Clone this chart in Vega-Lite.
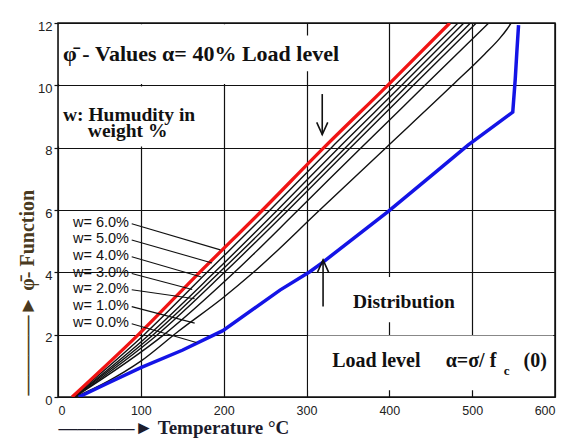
{
  "$schema": "https://vega.github.io/schema/vega-lite/v6.json",
  "width": 497,
  "height": 374,
  "autosize": {"type": "none"},
  "padding": {"left": 58, "top": 23, "right": 6, "bottom": 45},
  "background": "white",
  "config": {"view": {"stroke": "#111", "strokeWidth": 1.5}},
  "datasets": {
    "curves": [
      {"s": "red", "x": 17, "y": 0}, {"s": "red", "x": 97, "y": 2}, {"s": "red", "x": 171, "y": 4}, {"s": "red", "x": 247, "y": 6}, {"s": "red", "x": 321, "y": 8}, {"s": "red", "x": 398, "y": 10}, {"s": "red", "x": 473, "y": 12},
      {"s": "b5", "x": 18, "y": 0}, {"s": "b5", "x": 104, "y": 2}, {"s": "b5", "x": 180, "y": 4}, {"s": "b5", "x": 256, "y": 6}, {"s": "b5", "x": 330, "y": 8}, {"s": "b5", "x": 407, "y": 10}, {"s": "b5", "x": 483, "y": 12},
      {"s": "b4", "x": 19, "y": 0}, {"s": "b4", "x": 110, "y": 2}, {"s": "b4", "x": 189, "y": 4}, {"s": "b4", "x": 265, "y": 6}, {"s": "b4", "x": 339, "y": 8}, {"s": "b4", "x": 415, "y": 10}, {"s": "b4", "x": 490, "y": 12},
      {"s": "b3", "x": 19, "y": 0}, {"s": "b3", "x": 115, "y": 2}, {"s": "b3", "x": 195, "y": 4}, {"s": "b3", "x": 272, "y": 6}, {"s": "b3", "x": 347, "y": 8}, {"s": "b3", "x": 422, "y": 10}, {"s": "b3", "x": 498, "y": 12},
      {"s": "b2", "x": 20, "y": 0}, {"s": "b2", "x": 120, "y": 2}, {"s": "b2", "x": 201, "y": 4}, {"s": "b2", "x": 278, "y": 6}, {"s": "b2", "x": 353, "y": 8}, {"s": "b2", "x": 429, "y": 10}, {"s": "b2", "x": 505, "y": 12},
      {"s": "b1", "x": 20, "y": 0}, {"s": "b1", "x": 128, "y": 2}, {"s": "b1", "x": 213, "y": 4}, {"s": "b1", "x": 290, "y": 6}, {"s": "b1", "x": 366, "y": 8}, {"s": "b1", "x": 443, "y": 10}, {"s": "b1", "x": 520, "y": 12},
      {"s": "b0", "x": 21, "y": 0}, {"s": "b0", "x": 60, "y": 0.5}, {"s": "b0", "x": 100, "y": 1.15}, {"s": "b0", "x": 145, "y": 2.1}, {"s": "b0", "x": 200, "y": 3.2}, {"s": "b0", "x": 236, "y": 4}, {"s": "b0", "x": 316, "y": 6}, {"s": "b0", "x": 396, "y": 8}, {"s": "b0", "x": 476, "y": 10}, {"s": "b0", "x": 515, "y": 11}, {"s": "b0", "x": 533, "y": 11.5}, {"s": "b0", "x": 542, "y": 11.8}, {"s": "b0", "x": 547, "y": 12},
      {"s": "blue", "x": 25, "y": 0}, {"s": "blue", "x": 60, "y": 0.44}, {"s": "blue", "x": 100, "y": 0.94}, {"s": "blue", "x": 150, "y": 1.5}, {"s": "blue", "x": 199, "y": 2.13}, {"s": "blue", "x": 268, "y": 3.43}, {"s": "blue", "x": 304, "y": 4.02}, {"s": "blue", "x": 320, "y": 4.33}, {"s": "blue", "x": 398, "y": 5.94}, {"s": "blue", "x": 449, "y": 7.06}, {"s": "blue", "x": 495, "y": 8.08}, {"s": "blue", "x": 549, "y": 9.14}, {"s": "blue", "x": 552, "y": 10.2}, {"s": "blue", "x": 554, "y": 11.1}, {"s": "blue", "x": 556, "y": 11.93}
    ],
    "boxes": [
      {"x": 1, "x2": 295, "y": 10.04, "y2": 11.96},
      {"x": 295, "x2": 345, "y": 10.45, "y2": 11.6},
      {"x": 1, "x2": 196, "y": 8.04, "y2": 9.96},
      {"x": 350, "x2": 470, "y": 2.4, "y2": 3.85},
      {"x": 302, "x2": 598, "y": 0.22, "y2": 1.97}
    ],
    "leaders": [
      {"w": "6.0", "x": 89, "y": 5.56, "x2": 196, "y2": 4.72},
      {"w": "5.0", "x": 89, "y": 5.04, "x2": 186, "y2": 4.3},
      {"w": "4.0", "x": 89, "y": 4.5, "x2": 173, "y2": 3.85},
      {"w": "3.0", "x": 89, "y": 3.96, "x2": 162, "y2": 3.45},
      {"w": "2.0", "x": 89, "y": 3.44, "x2": 165, "y2": 3.15},
      {"w": "1.0", "x": 89, "y": 2.9, "x2": 165, "y2": 2.37},
      {"w": "0.0", "x": 89, "y": 2.35, "x2": 167, "y2": 1.75}
    ],
    "wlabels": [
      {"t": "w= 6.0%", "x": 18, "y": 5.58},
      {"t": "w= 5.0%", "x": 18, "y": 5.07},
      {"t": "w= 4.0%", "x": 18, "y": 4.52},
      {"t": "w= 3.0%", "x": 18, "y": 3.98},
      {"t": "w= 2.0%", "x": 18, "y": 3.46},
      {"t": "w= 1.0%", "x": 18, "y": 2.92},
      {"t": "w= 0.0%", "x": 18, "y": 2.37}
    ],
    "notes": [
      {"kind": "title", "t": "φ̄ -  Values α= 40% Load level", "x": 6, "y": 10.78},
      {"kind": "mid", "t": "w: Humudity in", "x": 6, "y": 8.87},
      {"kind": "mid", "t": "weight %", "x": 36, "y": 8.34},
      {"kind": "mid", "t": "Distribution", "x": 356, "y": 2.86},
      {"kind": "big", "t": "Load level", "x": 331, "y": 0.96},
      {"kind": "big", "t": "α=σ/ f", "x": 468, "y": 0.96},
      {"kind": "sub", "t": "c", "x": 538, "y": 0.7},
      {"kind": "big", "t": "(0)", "x": 562, "y": 0.96}
    ],
    "arrows": [
      {"dir": "down", "x": 319, "y": 9.72, "y2": 8.42},
      {"dir": "up", "x": 320, "y": 2.9, "y2": 4.4}
    ]
  },
  "encoding": {
    "x": {
      "field": "x", "type": "quantitative",
      "scale": {"domain": [0, 600], "nice": false, "zero": false},
      "axis": {
        "values": [0, 100, 200, 300, 400, 500, 600],
        "grid": true, "gridColor": "#111", "gridWidth": 1.2, "gridOpacity": 1,
        "domain": false, "ticks": false, "labelPadding": 7, "labelFlush": true,
        "labelFont": "Liberation Sans", "labelFontSize": 12.5, "labelColor": "#222",
        "title": "————► Temperature  °C",
        "titleFont": "Liberation Serif", "titleFontSize": 19, "titleFontWeight": "bold", "titleColor": "#1c1c2c",
        "titleAnchor": "start", "titleAlign": "left", "titleBaseline": "alphabetic", "titleX": 0, "titleY": 36
      }
    },
    "y": {
      "field": "y", "type": "quantitative",
      "scale": {"domain": [0, 12], "nice": false},
      "axis": {
        "values": [0, 2, 4, 6, 8, 10, 12],
        "grid": true, "gridColor": "#111", "gridWidth": 1.2, "gridOpacity": 1,
        "domain": false, "ticks": true, "tickSize": 4, "tickColor": "#111", "tickWidth": 1.2,
        "labelPadding": 2, "labelOffset": 3, "labelFont": "Liberation Sans", "labelFontSize": 13, "labelColor": "#222",
        "title": "————►  φ̄- Function",
        "titleFont": "Liberation Serif", "titleFontSize": 20, "titleFontWeight": "bold", "titleColor": "#4a3a20",
        "titleAngle": -90, "titleAlign": "left", "titleBaseline": "alphabetic", "titleX": -25, "titleY": 372
      }
    }
  },
  "layer": [
    {
      "data": {"name": "boxes"},
      "mark": {"type": "rect", "fill": "white", "stroke": null},
      "encoding": {"x2": {"field": "x2"}, "y2": {"field": "y2"}}
    },
    {
      "data": {"name": "curves"},
      "transform": [{"filter": "datum.s != 'red' && datum.s != 'blue'"}],
      "mark": {"type": "line", "color": "#111", "strokeWidth": 1.4, "interpolate": "monotone", "clip": true},
      "encoding": {"detail": {"field": "s"}}
    },
    {
      "data": {"name": "curves"},
      "transform": [{"filter": "datum.s == 'red'"}],
      "mark": {"type": "line", "color": "#f01414", "strokeWidth": 3.3, "interpolate": "monotone", "clip": true},
      "encoding": {}
    },
    {
      "data": {"name": "curves"},
      "transform": [{"filter": "datum.s == 'blue'"}],
      "mark": {"type": "line", "color": "#1414e6", "strokeWidth": 3.5, "clip": true},
      "encoding": {}
    },
    {
      "data": {"name": "leaders"},
      "mark": {"type": "rule", "color": "#111", "strokeWidth": 1.1},
      "encoding": {"x2": {"field": "x2"}, "y2": {"field": "y2"}}
    },
    {
      "data": {"name": "wlabels"},
      "mark": {"type": "text", "align": "left", "baseline": "middle", "font": "Liberation Sans", "fontSize": 14.5, "color": "#111"},
      "encoding": {"text": {"field": "t"}}
    },
    {
      "data": {"name": "notes"},
      "transform": [{"filter": "datum.kind == 'title'"}],
      "mark": {"type": "text", "align": "left", "baseline": "alphabetic", "font": "Liberation Serif", "fontWeight": "bold", "fontSize": 22, "color": "#111"},
      "encoding": {"text": {"field": "t"}}
    },
    {
      "data": {"name": "notes"},
      "transform": [{"filter": "datum.kind == 'big'"}],
      "mark": {"type": "text", "align": "left", "baseline": "alphabetic", "font": "Liberation Serif", "fontWeight": "bold", "fontSize": 20, "color": "#111"},
      "encoding": {"text": {"field": "t"}}
    },
    {
      "data": {"name": "notes"},
      "transform": [{"filter": "datum.kind == 'mid'"}],
      "mark": {"type": "text", "align": "left", "baseline": "alphabetic", "font": "Liberation Serif", "fontWeight": "bold", "fontSize": 19.5, "color": "#111"},
      "encoding": {"text": {"field": "t"}}
    },
    {
      "data": {"name": "notes"},
      "transform": [{"filter": "datum.kind == 'sub'"}],
      "mark": {"type": "text", "align": "left", "baseline": "alphabetic", "font": "Liberation Serif", "fontWeight": "bold", "fontSize": 13, "color": "#111"},
      "encoding": {"text": {"field": "t"}}
    },
    {
      "data": {"name": "arrows"},
      "mark": {"type": "rule", "color": "#111", "strokeWidth": 1.6},
      "encoding": {"y2": {"field": "y2"}}
    },
    {
      "data": {"name": "arrows"},
      "transform": [{"filter": "datum.dir == 'down'"}],
      "mark": {"type": "point", "shape": "M-0.45,-1L0,0L0.45,-1", "filled": false, "stroke": "#111", "strokeWidth": 1.6, "size": 600, "opacity": 1},
      "encoding": {"y": {"field": "y2", "type": "quantitative"}}
    },
    {
      "data": {"name": "arrows"},
      "transform": [{"filter": "datum.dir == 'up'"}],
      "mark": {"type": "point", "shape": "M-0.45,1L0,0L0.45,1", "filled": false, "stroke": "#111", "strokeWidth": 1.6, "size": 600, "opacity": 1},
      "encoding": {"y": {"field": "y2", "type": "quantitative"}}
    }
  ]
}
